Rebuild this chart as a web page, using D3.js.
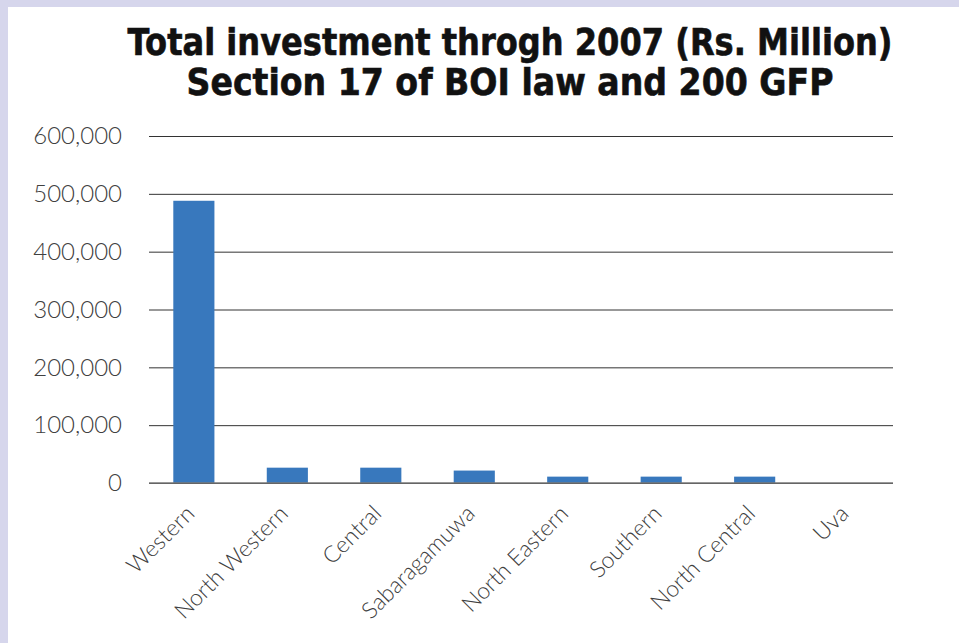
<!DOCTYPE html>
<html>
<head>
<meta charset="utf-8">
<script src="https://cdn.jsdelivr.net/npm/d3@7"></script>
<style>
  html, body { margin: 0; padding: 0; background: #d6d6ec; }
  svg { display: block; }
</style>
</head>
<body>
<script>
// Investment by province, Rs. Million
const provinces = ["Western", "North Western", "Central", "Sabaragamuwa", "North Eastern", "Southern", "North Central", "Uva"];
const investment = [488000, 26500, 26500, 21500, 11000, 11000, 11000, 0];
const yTicks = [0, 100000, 200000, 300000, 400000, 500000, 600000];
const titleLines = ["Total investment throgh 2007 (Rs. Million)", "Section 17 of BOI law and 200 GFP"];
const titleWidths = [765, 647];

const W = 959, H = 643;
const svg = d3.select("body").append("svg").attr("width", W).attr("height", H);

// white panel inside the lavender frame
svg.append("rect").attr("x", 8).attr("y", 7).attr("width", W - 8).attr("height", H - 7).attr("fill", "#ffffff");

const plot = { left: 149, right: 893, top: 136, bottom: 483 };

const x = d3.scaleBand().domain(provinces).range([plot.left, plot.right]).paddingInner(0.56).paddingOuter(0.26);
const y = d3.scaleLinear().domain([0, 600000]).range([plot.bottom, plot.top]);

// title, two centred lines, slightly stretched vertically
svg.append("g").selectAll("text").data(titleLines).join("text")
  .attr("transform", (d, i) => `translate(510,${55 + i * 40}) scale(1,1.1)`)
  .attr("text-anchor", "middle")
  .attr("font-family", "'DejaVu Sans', sans-serif")
  .attr("font-weight", "bold")
  .attr("font-size", 34)
  .attr("textLength", (d, i) => titleWidths[i])
  .attr("lengthAdjust", "spacingAndGlyphs")
  .attr("stroke", "#111")
  .attr("stroke-width", 0.6)
  .attr("fill", "#111")
  .text(d => d);

// gridlines + y labels
const yAxis = d3.axisLeft(y).tickValues(yTicks).tickSize(-(plot.right - plot.left)).tickPadding(27)
  .tickFormat(d3.format(","));
const gy = svg.append("g").attr("transform", `translate(${plot.left},0)`).call(yAxis);
gy.select(".domain").remove();
gy.selectAll(".tick line").attr("stroke", "#333").attr("stroke-width", 1);
gy.selectAll(".tick text")
  .attr("font-family", "Lato, 'Open Sans', sans-serif")
  .attr("font-weight", 300)
  .attr("font-size", 24)
  .attr("fill", "#404040");

// bars
svg.append("g").selectAll("rect").data(provinces).join("rect")
  .attr("x", d => x(d))
  .attr("width", x.bandwidth())
  .attr("y", (d, i) => y(investment[i]))
  .attr("height", (d, i) => y(0) - y(investment[i]))
  .attr("fill", "#3878bd");

// baseline
svg.append("line").attr("x1", plot.left).attr("x2", plot.right)
  .attr("y1", y(0)).attr("y2", y(0)).attr("stroke", "#777").attr("stroke-width", 1.5);

// category labels
const xAxis = d3.axisBottom(x).tickSize(0).tickPadding(0);
const gx = svg.append("g").attr("transform", `translate(0,${plot.bottom})`).call(xAxis);
gx.select(".domain").remove();
gx.selectAll(".tick text")
  .attr("font-family", "Lato, 'Open Sans', sans-serif")
  .attr("font-weight", 300)
  .attr("font-size", 23)
  .attr("fill", "#404040")
  .attr("text-anchor", "end")
  .attr("dy", 0)
  .attr("transform", "translate(2,32) rotate(-45)");
</script>
</body>
</html>
